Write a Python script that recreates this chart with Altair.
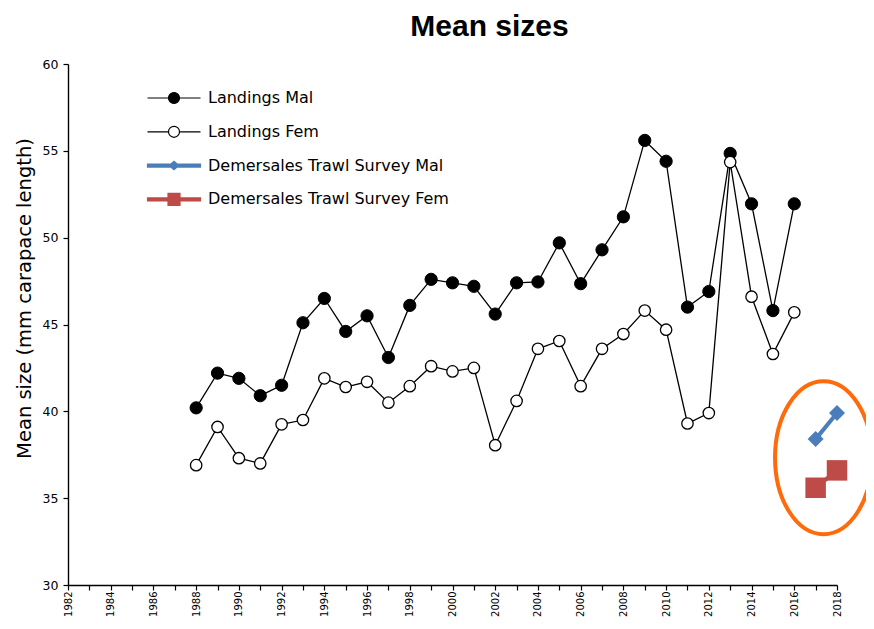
import altair as alt
import pandas as pd

# ---------------- data ----------------
landing_years = list(range(1988, 2017))
landings_mal = [40.2, 42.2, 41.9, 40.9, 41.5, 45.1, 46.5, 44.6, 45.5, 43.1,
                46.1, 47.6, 47.4, 47.2, 45.6, 47.4, 47.45, 49.7, 47.35, 49.3,
                51.2, 55.6, 54.4, 46.0, 46.9, 54.85, 51.95, 45.8, 51.95]
landings_fem = [36.9, 39.1, 37.3, 37.0, 39.25, 39.5, 41.9, 41.4, 41.7, 40.5,
                41.45, 42.6, 42.3, 42.5, 38.05, 40.6, 43.6, 44.05, 41.45, 43.6,
                44.45, 45.8, 44.7, 39.3, 39.9, 54.35, 46.6, 43.3, 45.7]
survey_years = [2017, 2018]
survey_mal = [38.4, 39.9]
survey_fem = [35.6, 36.6]

# annotation ellipse centre (data units)
ellipse_year = [2017.37]
ellipse_value = [37.33]

series_names = ["Landings Mal", "Landings Fem",
                "Demersales Trawl  Survey Mal", "Demersales Trawl  Survey Fem"]
x_ticks = list(range(1982, 2019))
y_ticks = [30, 35, 40, 45, 50, 55, 60]

BLUE = "#4A7EBB"
RED = "#BE4B48"
ORANGE = "#FF6A0A"

# ---------------- tables ----------------
rows = []
for yr, v in zip(landing_years, landings_mal):
    rows.append({"year": yr, "value": v, "series": series_names[0]})
for yr, v in zip(landing_years, landings_fem):
    rows.append({"year": yr, "value": v, "series": series_names[1]})
for yr, v in zip(survey_years, survey_mal):
    rows.append({"year": yr, "value": v, "series": series_names[2]})
for yr, v in zip(survey_years, survey_fem):
    rows.append({"year": yr, "value": v, "series": series_names[3]})
df = pd.DataFrame(rows)
df_ell = pd.DataFrame({"year": ellipse_year, "value": ellipse_value})

FONT = "DejaVu Sans"
PLOT_H = 521

X = alt.X("year:Q",
          scale=alt.Scale(domain=[1982, 2018], nice=False, zero=False),
          axis=alt.Axis(values=x_ticks, format="d",
                        labelExpr="datum.value % 2 == 0 ? datum.label : ''",
                        labelAngle=270, labelAlign="right", labelBaseline="middle",
                        labelOverlap=False, labelFlush=False,
                        labelFont=FONT, labelFontSize=10, labelColor="black",
                        labelPadding=1, tickSize=5, tickColor="black", tickWidth=1.2,
                        domainColor="black", domainWidth=1.4, grid=False, title=None))
Y = alt.Y("value:Q",
          scale=alt.Scale(domain=[30, 60], nice=False, zero=False),
          axis=alt.Axis(values=y_ticks, labelFont=FONT, labelFontSize=12.5,
                        labelColor="black", labelPadding=5, tickSize=5,
                        tickColor="black", tickWidth=1.2, domainColor="black",
                        domainWidth=1.4, grid=False,
                        title="Mean size (mm carapace length)",
                        titleFont=FONT, titleFontSize=19.5, titleFontWeight="normal",
                        titleColor="black", titlePadding=8, titleY=234))

base = alt.Chart(df)

land_lines = base.transform_filter(
    alt.FieldOneOfPredicate(field="series", oneOf=series_names[:2])
).mark_line(color="black", strokeWidth=1.3).encode(x=X, y=Y, detail="series:N")

mal_pts = base.transform_filter(alt.datum.series == series_names[0]).mark_point(
    shape="circle", filled=True, fill="black", stroke="black", strokeWidth=1,
    size=150, opacity=1).encode(x=X, y=Y)

fem_pts = base.transform_filter(alt.datum.series == series_names[1]).mark_point(
    shape="circle", filled=False, fill="white", fillOpacity=1, stroke="black",
    strokeWidth=1.3, size=130, opacity=1).encode(x=X, y=Y)

blue_line = base.transform_filter(alt.datum.series == series_names[2]).mark_line(
    color=BLUE, strokeWidth=4).encode(x=X, y=Y)
blue_pts = base.transform_filter(alt.datum.series == series_names[2]).mark_point(
    shape="diamond", filled=True, color=BLUE, size=256, opacity=1).encode(x=X, y=Y)

red_line = base.transform_filter(alt.datum.series == series_names[3]).mark_line(
    color=RED, strokeWidth=4).encode(x=X, y=Y)
red_pts = base.transform_filter(alt.datum.series == series_names[3]).mark_point(
    shape="square", filled=True, color=RED, size=420, opacity=1).encode(x=X, y=Y)

k = 1.577
kk = round(0.5523 * k, 4)
ellipse_path = (f"M -1 0 C -1 -{kk} -0.5523 -{k} 0 -{k} "
                f"C 0.5523 -{k} 1 -{kk} 1 0 "
                f"C 1 {kk} 0.5523 {k} 0 {k} "
                f"C -0.5523 {k} -1 {kk} -1 0 Z")
ellipse = alt.Chart(df_ell).mark_point(
    shape=ellipse_path, filled=False, fillOpacity=0, stroke=ORANGE,
    strokeWidth=4, size=9409, opacity=1).encode(x=X, y=Y)

# legend symbols (line + marker), unit = 10 px
c = 0.55
cc = round(0.5523 * c, 4)
circle = (f"M -{c} 0 C -{c} -{cc} -{cc} -{c} 0 -{c} C {cc} -{c} {c} -{cc} {c} 0 "
          f"C {c} {cc} {cc} {c} 0 {c} C -{cc} {c} -{c} {cc} -{c} 0 Z")
land_sym = f"M -2.65 0 L -{c} 0 M {c} 0 L 2.65 0 " + circle
mal_sym = "M -2.65 -0.15 L 2.65 -0.15 L 2.65 0.15 L -2.65 0.15 Z M -0.5 0 L 0 -0.42 L 0.5 0 L 0 0.42 Z"
fem_sym = "M -2.65 -0.15 L 2.65 -0.15 L 2.65 0.15 L -2.65 0.15 Z M -0.6 -0.6 L 0.6 -0.6 L 0.6 0.6 L -0.6 0.6 Z"

leg = alt.Legend(title=None, orient="none", legendX=95, legendY=23, padding=0,
                 symbolSize=400, symbolStrokeWidth=1.2, symbolOpacity=1,
                 rowPadding=14.8, labelOffset=23, labelFont=FONT,
                 labelFontSize=16, labelColor="black", labelLimit=500)
legend_layer = base.transform_filter("false").mark_point(
    opacity=1, size=400, strokeWidth=1.2).encode(
    shape=alt.Shape("series:N", scale=alt.Scale(
        domain=series_names, range=[land_sym, land_sym, mal_sym, fem_sym]), legend=leg),
    fill=alt.Fill("series:N", scale=alt.Scale(
        domain=series_names, range=["black", "white", BLUE, RED]), legend=leg),
    stroke=alt.Stroke("series:N", scale=alt.Scale(
        domain=series_names, range=["black", "black", BLUE, RED]), legend=leg),
)

chart = alt.layer(
    land_lines, mal_pts, fem_pts, blue_line, red_line, blue_pts, red_pts,
    ellipse, legend_layer
).properties(
    width=769, height=PLOT_H,
    autosize=alt.AutoSizeParams(type="none"),
    padding={"left": 60, "top": 56, "right": 29, "bottom": 32},
    title=alt.TitleParams(text="Mean sizes", font="Liberation Sans", fontSize=30,
                          fontWeight="bold", color="black", anchor="middle",
                          dx=37, offset=16),
).configure(background="white").configure_view(stroke=None)

chart.save("out.html", embed_options={"renderer": "svg", "actions": False})
